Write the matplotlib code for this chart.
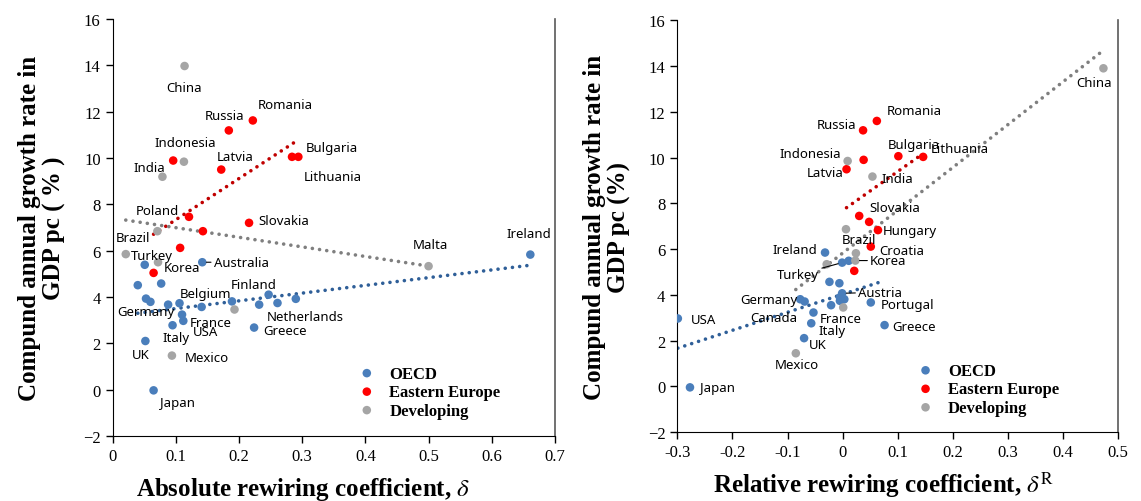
import matplotlib
matplotlib.use("Agg")
import matplotlib.pyplot as plt
import numpy as np

plt.rcParams["mathtext.fontset"] = "stix"

# ---- left panel: absolute rewiring coefficient ----
l_oecd_x = [0.142, 0.051, 0.040, 0.077, 0.053, 0.060, 0.088, 0.106, 0.110, 0.112, 0.095,
            0.141, 0.189, 0.247, 0.232, 0.261, 0.290, 0.224, 0.052, 0.065, 0.661]
l_oecd_y = [5.50, 5.39, 4.51, 4.58, 3.93, 3.79, 3.67, 3.73, 3.24, 2.97, 2.78,
            3.57, 3.81, 4.10, 3.67, 3.74, 3.92, 2.68, 2.10, -0.03, 5.83]
l_oecd_names = ["Australia", "", "", "", "Germany", "", "", "Belgium", "France", "USA", "Italy",
                "", "Finland", "", "", "Netherlands", "", "Greece", "UK", "Japan", "Ireland"]

l_ee_x = [0.184, 0.222, 0.096, 0.172, 0.284, 0.294, 0.121, 0.143, 0.107, 0.065, 0.216]
l_ee_y = [11.19, 11.62, 9.89, 9.50, 10.05, 10.05, 7.46, 6.84, 6.12, 5.04, 7.20]
l_ee_names = ["Russia", "Romania", "", "Latvia", "Bulgaria", "Lithuania", "Poland", "", "", "", "Slovakia"]

l_dev_x = [0.114, 0.113, 0.079, 0.071, 0.021, 0.072, 0.094, 0.500, 0.193]
l_dev_y = [13.97, 9.84, 9.19, 6.84, 5.85, 5.50, 1.47, 5.33, 3.46]
l_dev_names = ["China", "Indonesia", "India", "Brazil", "Turkey", "Korea", "Mexico", "Malta", ""]

# ---- right panel: relative rewiring coefficient ----
r_oecd_x = [-0.032, -0.001, 0.011, -0.024, -0.006, -0.001, -0.005, 0.003, -0.005, -0.021,
            0.051, -0.077, -0.069, -0.053, -0.057, -0.070, -0.299, 0.076, -0.277]
r_oecd_y = [5.85, 5.41, 5.49, 4.57, 4.51, 4.07, 3.89, 3.81, 3.74, 3.55,
            3.67, 3.81, 3.71, 3.23, 2.76, 2.11, 2.97, 2.68, -0.04]
r_oecd_names = ["Ireland", "Turkey", "", "", "", "Austria", "", "", "", "",
                "Portugal", "Germany", "Canada", "France", "Italy", "UK", "USA", "Greece", "Japan"]

r_ee_x = [0.062, 0.037, 0.038, 0.101, 0.146, 0.007, 0.030, 0.048, 0.064, 0.051, 0.021]
r_ee_y = [11.60, 11.19, 9.90, 10.06, 10.03, 9.49, 7.45, 7.19, 6.83, 6.11, 5.05]
r_ee_names = ["Romania", "Russia", "", "Bulgaria", "Lithuania", "Latvia", "Slovakia", "", "Hungary", "Croatia", ""]

r_dev_x = [0.473, 0.009, 0.054, 0.006, 0.024, 0.023, -0.029, 0.001, -0.085]
r_dev_y = [13.90, 9.85, 9.17, 6.87, 5.82, 5.50, 5.34, 3.45, 1.45]
r_dev_names = ["China", "Indonesia", "India", "Brazil", "", "Korea", "", "", "Mexico"]

groups = ["OECD", "Eastern Europe", "Developing"]

# label placement, offset in pixels from the point (dx right, dy down), leader line flag
l_offsets = {
    "Australia": (39, 0, True), "Germany": (0, 13, False), "Belgium": (26, -10, False),
    "France": (29, 8, False), "USA": (22, 11, False), "Italy": (3, 12, False),
    "Finland": (22, -17, False), "Netherlands": (28, 13, False), "Greece": (31, 3, False),
    "UK": (-5, 13, False), "Japan": (24, 12, False), "Ireland": (-1, -21, False),
    "Russia": (-4, -15, False), "Romania": (32, -16, False), "Latvia": (14, -13, False),
    "Bulgaria": (40, -9, False), "Lithuania": (34, 20, False), "Poland": (-32, -6, False),
    "Slovakia": (35, -2, False), "China": (-1, 21, False), "Indonesia": (1, -19, False),
    "India": (-13, -9, False), "Brazil": (-24, 6, False), "Turkey": (26, 1, False),
    "Korea": (24, 5, False), "Mexico": (35, 2, False), "Malta": (2, -22, False),
}
r_offsets = {
    "Ireland": (-30, -3, False), "Turkey": (-44, 12, True), "Austria": (38, -1, True),
    "Portugal": (37, 2, False), "Germany": (-31, 0, False), "Canada": (-31, 16, False),
    "France": (27, 6, False), "Italy": (21, 7, False), "UK": (14, 6, False),
    "USA": (26, 1, False), "Greece": (29, 1, False), "Japan": (28, 0, False),
    "Romania": (37, -10, False), "Russia": (-27, -6, False), "Bulgaria": (16, -12, False),
    "Lithuania": (37, -8, False), "Latvia": (-21, 3, False), "Slovakia": (36, -8, False),
    "Hungary": (32, 0, False), "Croatia": (31, 4, False), "China": (-9, 14, False),
    "Indonesia": (-37, -7, False), "India": (25, 2, False), "Brazil": (13, 10, False),
    "Korea": (33, 0, True), "Mexico": (1, 11, False),
}

point_colors = ["#4A7EBB", "#FF0000", "#A5A5A5"]
line_colors = ["#2F5F98", "#C00000", "#7F7F7F"]

serif = "Liberation Serif"
label_font = "Noto Sans"


def panel(ax, data, offsets, xlim, xticks, xlabel, ylabel, xlab_x, leg_x):
    for (xs, ys, names), pc, lc, g in zip(data, point_colors, line_colors, groups):
        xs = np.array(xs)
        ys = np.array(ys)
        # linear trend line over the group's x range
        k, b = np.polyfit(xs, ys, 1)
        tx = np.array([xs.min(), xs.max()])
        ax.plot(tx, k * tx + b, color=lc, lw=2.6, linestyle=(0, (0.01, 2.0)),
                dash_capstyle="round", zorder=2)
        ax.scatter(xs, ys, s=38, color=pc, edgecolors="none", zorder=3, label=g)
        for x, y, n in zip(xs, ys, names):
            if not n:
                continue
            dx, dy, lead = offsets[n]
            kw = {}
            if lead:
                kw["arrowprops"] = dict(arrowstyle="-", color="black", lw=0.8,
                                        shrinkA=14 if abs(dx) < 30 else 20, shrinkB=3)
            ax.annotate(n, (x, y), xytext=(dx, -dy), textcoords="offset pixels",
                        ha="center", va="center", fontsize=9.5, family=label_font,
                        zorder=4, **kw)

    ax.set_xlim(*xlim)
    ax.set_ylim(-2, 16)
    ax.set_xticks(xticks)
    ax.set_xticklabels([("%g" % t) for t in xticks])
    ax.set_yticks(np.arange(-2, 17, 2))
    for lab in ax.get_xticklabels() + ax.get_yticklabels():
        lab.set_family(serif)
        lab.set_fontsize(12)
    ax.tick_params(direction="out", length=5, width=1, colors="black")
    ax.spines["top"].set_visible(False)
    ax.spines["right"].set_color("#595959")
    ax.spines["right"].set_linewidth(1.2)
    ax.set_xlabel(xlabel, family=serif, fontsize=18, fontweight="bold")
    ax.xaxis.label.set_va("center")
    ax.xaxis.set_label_coords(xlab_x, -0.125)
    ax.set_ylabel(ylabel, family=serif, fontsize=18, fontweight="bold", labelpad=12,
                  linespacing=1.1)
    ax.legend(loc="upper left", bbox_to_anchor=(leg_x, 0.185), frameon=False,
              prop={"family": serif, "weight": "bold", "size": 12},
              handletextpad=0.35, labelspacing=0.15, borderaxespad=0,
              scatterpoints=1, markerscale=1.0)


fig = plt.figure(figsize=(11.41, 5.02), dpi=100)
ax1 = fig.add_axes([0.0986, 0.1295, 0.3878, 0.8307])
ax2 = fig.add_axes([0.5936, 0.137, 0.3865, 0.8207])

panel(ax1,
      [(l_oecd_x, l_oecd_y, l_oecd_names), (l_ee_x, l_ee_y, l_ee_names), (l_dev_x, l_dev_y, l_dev_names)],
      l_offsets, (0, 0.7), [0, 0.1, 0.2, 0.3, 0.4, 0.5, 0.6, 0.7],
      "Absolute rewiring coefficient, $\\delta$",
      "Compund annual growth rate in\nGDP pc ( % )", 0.43, 0.522)
panel(ax2,
      [(r_oecd_x, r_oecd_y, r_oecd_names), (r_ee_x, r_ee_y, r_ee_names), (r_dev_x, r_dev_y, r_dev_names)],
      r_offsets, (-0.3, 0.5), [-0.3, -0.2, -0.1, 0, 0.1, 0.2, 0.3, 0.4, 0.5],
      "Relative rewiring coefficient, $\\delta^{\\mathrm{R}}$",
      "Compund annual growth rate in\nGDP pc (%)", 0.467, 0.51)

fig.savefig("out.png", dpi=100)
